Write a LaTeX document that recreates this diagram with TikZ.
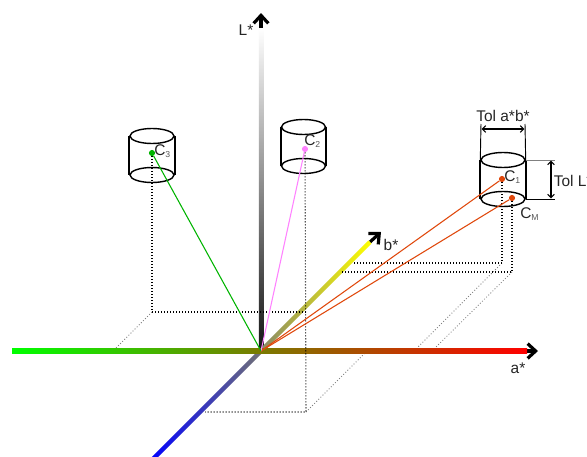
\documentclass[tikz,border=0pt]{standalone}
\usepackage{fontspec}
\setmainfont{Liberation Sans}
\usetikzlibrary{arrows.meta,shapes.geometric}
\definecolor{axolive}{RGB}{122,122,0}
\definecolor{redline}{RGB}{224,72,12}
\definecolor{greenline}{RGB}{0,180,0}
\definecolor{pinkline}{RGB}{255,130,255}
\definecolor{subgrey}{RGB}{90,90,90}
\tikzset{
  axbar/.style={inner sep=0pt,outer sep=0pt,minimum height=4.5*0.75pt},
  axtip/.style={line width=2.4pt,-{Straight Barb[length=6pt,width=11pt,line width=2.4pt]}},
  capell/.style={ellipse,draw=black,line width=1.05pt,inner sep=0pt,minimum width=44*0.75pt,minimum height=15*0.75pt,fill=none},
  cylside/.style={line width=1.35pt},
  blackdots/.style={line width=0.8pt,dash pattern=on 0.75pt off 1.5pt},
  greydots/.style={line width=0.6pt,gray,dash pattern=on 0.7pt off 1.5pt},
  ptdot/.style={circle,inner sep=0pt,minimum size=4.6pt},
  lab/.style={font=\fontsize{11.6pt}{13pt}\selectfont,inner sep=0pt,text=black!85},
  conn/.style={line width=0.8pt},
  tolline/.style={line width=0.7pt},
  tolarrow/.style={line width=0.8pt,{Straight Barb[length=2.6pt,width=5pt]}-{Straight Barb[length=2.6pt,width=5pt]}}
}
\newcommand{\Csub}[1]{C\textsubscript{\fontsize{6.5pt}{7pt}\selectfont\textcolor{subgrey}{#1}}}
\begin{document}
\begin{tikzpicture}[x=0.75pt,y=-0.75pt]
\clip (0,0) rectangle (587,457);
\fill[white] (0,0) rectangle (587,457);
\coordinate (O) at (261,351);
% named free ends
\coordinate (a0) at (527,351); \coordinate (aT) at (538,351);
\coordinate (L0) at (261,28);  \coordinate (LT) at (261,13);
\coordinate (b0) at (370,242); \coordinate (bT) at (381,232);
% dotted guides
\coordinate (p3) at (152,312);
\coordinate (p2) at (306,412);
\coordinate (p1) at (502,263);
\coordinate (pm) at (512,272);
\draw[greydots] (p3) -- (116,348);
\draw[greydots] (p2) -- (365,353);
\draw[greydots] (p1) -- (418,347);
\draw[greydots] (pm) -- (436,347);
% axes
\draw[axtip] (a0) -- (aT);
\draw[axtip] (L0) -- (LT);
\draw[axtip] (b0) -- (bT);
\node[inner sep=0pt,outer sep=0pt,minimum width=4.5*0.75pt,minimum height=323*0.75pt,top color=white,bottom color=black!92] (Lbar) at (261,189.5) {};
\node[axbar,minimum width=154*0.75pt,rotate=45,left color={rgb,255:red,135;green,135;blue,105},right color=yellow] (bbar) at (315.5,296.5) {};
\node[axbar,minimum width=157*0.75pt,rotate=45,left color=blue,right color={rgb,255:red,115;green,115;blue,115}] (dbar) at (205.5,406.5) {};
\node[axbar,minimum width=249*0.75pt,left color=green,right color=axolive] (aL) at (136.5,351) {};
\node[axbar,minimum width=266*0.75pt,left color=axolive,right color=red] (aR) at (394,351) {};
% black dotted drop lines
\node[ptdot,fill=redline] (c1) at (502,179) {};
\node[ptdot,fill=redline] (cm) at (512,198) {};
\node[ptdot,fill=pinkline] (c2) at (305,149) {};
\node[ptdot,fill=greenline] (c3) at (152,153) {};
\draw[blackdots] (c3) -- (p3) -- (306,312);
\draw[blackdots] (c2) -- (p2) -- (205,412);
\draw[blackdots] (c1) -- (p1) -- (354,263);
\draw[blackdots] (cm) -- (pm) -- (342,272);
% cylinders
\node[capell] (t1) at (503,160) {};
\node[capell] (b1) at (503,199) {};
\draw[cylside] (t1.west) -- (b1.west) (t1.east) -- (b1.east);
\node[capell] (t2) at (303.5,127) {};
\node[capell] (b2) at (303.5,166) {};
\draw[cylside] (t2.west) -- (b2.west) (t2.east) -- (b2.east);
\node[capell] (t3) at (152,136) {};
\node[capell] (b3) at (152,175) {};
\draw[cylside] (t3.west) -- (b3.west) (t3.east) -- (b3.east);
% connectors
\draw[conn,redline] (O) -- (c1);
\draw[conn,redline] (O) -- (cm);
\draw[conn,pinkline] (O) -- (c2);
\draw[conn,greenline] (O) -- (c3);
% tolerances
\coordinate (u1) at (481,124); \coordinate (u2) at (525,124);
\draw[tolline] (u1) -- (t1.west);
\draw[tolline] (u2) -- (t1.east);
\draw[tolarrow] (481.5,129) -- (524.5,129);
\coordinate (r1) at (555,160); \coordinate (r2) at (555,199);
\draw[tolline,gray] (t1.east) -- (r1);
\draw[tolline] (b1.east) -- (r2);
\draw[tolarrow] (551,160.5) -- (551,198.5);
% labels
\node[lab] (ltol) at (503,115.5) {Tol a*b*};
\node[lab,anchor=west] (ltl) at (553.5,181) {Tol L*};
\node[lab,anchor=west] (l1) at (504,177) {\Csub{1}};
\node[lab,anchor=west] (lm) at (520,214) {\Csub{M}};
\node[lab,anchor=west] (l2) at (304,141) {\Csub{2}};
\node[lab,anchor=west] (l3) at (154,151) {\Csub{3}};
\node[lab] (lL) at (246,30) {L*};
\node[lab] (lb) at (391,244.5) {b*};
\node[lab] (la) at (518,368) {a*};
\end{tikzpicture}
\end{document}
